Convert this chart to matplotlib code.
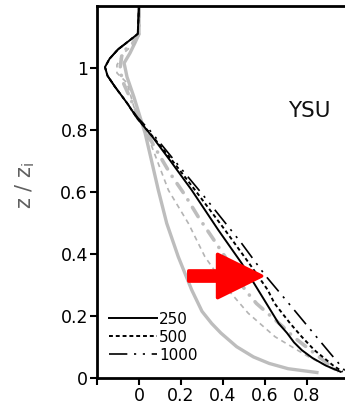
import matplotlib
matplotlib.use("Agg")
import matplotlib.pyplot as plt
from matplotlib.lines import Line2D

plt.rcParams['font.family'] = ['DejaVu Sans']

# ---- data (x = normalized value, z = z/zi) ----
z_b250 = [1.2, 1.11, 1.09, 1.06, 1.03, 1.003, 0.975, 0.94, 0.887, 0.839, 0.777, 0.70,
          0.606, 0.477, 0.37, 0.27, 0.176, 0.145, 0.115, 0.09, 0.065, 0.04, 0.02]
x_b250 = [0.0, -0.006, -0.043, -0.10, -0.14, -0.162, -0.15, -0.115, -0.057, -0.01, 0.065, 0.15,
          0.251, 0.378, 0.489, 0.58, 0.665, 0.705, 0.738, 0.775, 0.825, 0.89, 0.96]

z_b500 = [1.2, 1.11, 1.09, 1.06, 1.03, 1.003, 0.975, 0.94, 0.887, 0.839, 0.777, 0.70,
          0.606, 0.477, 0.359, 0.284, 0.241, 0.176, 0.133, 0.09, 0.068, 0.04, 0.02]
x_b500 = [0.0, -0.006, -0.043, -0.10, -0.14, -0.162, -0.15, -0.115, -0.057, -0.01, 0.068, 0.16,
          0.267, 0.41, 0.536, 0.613, 0.645, 0.72, 0.775, 0.835, 0.875, 0.925, 0.97]

z_b1000 = [1.2, 1.11, 1.09, 1.06, 1.03, 1.003, 0.975, 0.94, 0.887, 0.839, 0.80, 0.68,
           0.596, 0.434, 0.332, 0.235, 0.145, 0.08, 0.02]
x_b1000 = [0.0, -0.006, -0.043, -0.10, -0.14, -0.162, -0.15, -0.115, -0.057, -0.005, 0.05, 0.195,
           0.298, 0.489, 0.60, 0.72, 0.83, 0.91, 0.985]

z_g250 = [1.2, 1.11, 1.08, 1.048, 1.016, 0.971, 0.906, 0.842, 0.79, 0.70, 0.606, 0.499,
          0.391, 0.284, 0.215, 0.176, 0.145, 0.101, 0.068, 0.047, 0.03, 0.017]
x_g250 = [0.0, 0.0, -0.02, -0.043, -0.071, -0.057, -0.024, 0.005, 0.029, 0.06, 0.092, 0.132,
          0.187, 0.251, 0.30, 0.346, 0.39, 0.465, 0.545, 0.62, 0.71, 0.855]

z_g500 = [1.2, 1.11, 1.08, 1.05, 1.01, 0.984, 0.952, 0.874, 0.80, 0.745, 0.606, 0.499,
          0.391, 0.284, 0.209, 0.133, 0.069, 0.02]
x_g500 = [0.0, 0.0, -0.02, -0.07, -0.105, -0.105, -0.057, -0.024, 0.03, 0.062, 0.14, 0.235,
          0.314, 0.425, 0.52, 0.648, 0.806, 0.949]

z_g1000 = [1.2, 1.11, 1.08, 1.05, 1.0, 0.96, 0.90, 0.84, 0.75, 0.66, 0.59, 0.52,
           0.456, 0.391, 0.284, 0.24, 0.165, 0.133, 0.02]
x_g1000 = [0.0, 0.0, -0.03, -0.08, -0.09, -0.08, -0.04, 0.0, 0.07, 0.148, 0.219, 0.282,
           0.346, 0.41, 0.505, 0.56, 0.686, 0.735, 0.948]

legend_labels = ['250', '500', '1000']
x_ticks = [-0.2, 0, 0.2, 0.4, 0.6, 0.8]
x_ticklabels = ['', '0', '0.2', '0.4', '0.6', '0.8']
y_ticks = [0, 0.2, 0.4, 0.6, 0.8, 1.0]
y_ticklabels = ['0', '0.2', '0.4', '0.6', '0.8', '1']
panel_label = 'YSU'

# ---- figure ----
W, H = 345, 404
fig = plt.figure(figsize=(W / 100, H / 100), dpi=100)
ax = fig.add_axes([97 / W, 26 / H, (W - 97) / W, 372 / H])
ax.set_xlim(-0.2, (W - 139) / 210)
ax.set_ylim(0, 1.2)

gray = '#bdbdbd'
ax.plot(x_g250, z_g250, color=gray, lw=2.4, solid_capstyle='butt', solid_joinstyle='round')
ax.plot(x_g500, z_g500, color='#b4b4b4', lw=1.2, linestyle=(0, (3, 2.5)))
ax.plot(x_g1000, z_g1000, color=gray, lw=2.6, linestyle=(0, (3.0, 2.4, 0.05, 2.4)),
        dash_capstyle='round')

dash_style = (0, (2, 1.5))
dd_style = (0, (11, 4, 1.3, 4, 1.3, 4))
ax.plot(x_b250, z_b250, color='black', lw=1.4, solid_joinstyle='round')
ax.plot(x_b500, z_b500, color='black', lw=1.4, linestyle=dash_style)
ax.plot(x_b1000, z_b1000, color='black', lw=1.2, linestyle=dd_style)

handles = [Line2D([], [], color='black', lw=1.4),
           Line2D([], [], color='black', lw=1.4, linestyle=dash_style),
           Line2D([], [], color='black', lw=1.2, linestyle=dd_style)]
ax.legend(handles, legend_labels, loc='lower left', bbox_to_anchor=(0.0, 0.008),
          frameon=False, fontsize=11, handlelength=3.1, handletextpad=0.15,
          labelspacing=0.2, borderpad=0.3)

# red arrow annotation
ax.arrow(0.237, 0.329, 0.347, 0.0, width=0.033, head_width=0.14, head_length=0.21,
         length_includes_head=True, facecolor='#ff0000', edgecolor='#ff0000',
         lw=2.5, joinstyle='round', zorder=5)

ax.text(0.81, 0.861, panel_label, fontsize=15.5, ha='center', va='center', color='#111111')

ax.set_xticks(x_ticks)
ax.set_xticklabels(x_ticklabels)
ax.set_yticks(y_ticks)
ax.set_yticklabels(y_ticklabels)
ax.tick_params(direction='out', length=5, width=1.5, labelsize=12.5, pad=1.5)
for s in ['left', 'bottom', 'top']:
    ax.spines[s].set_linewidth(2)
ax.spines['right'].set_visible(False)

fig.text(25 / W, 1 - 185 / H, 'z / z$_\\mathregular{i}$', rotation=90, fontsize=15,
         color='#606060', ha='center', va='center')

fig.savefig('out.png', dpi=100)
